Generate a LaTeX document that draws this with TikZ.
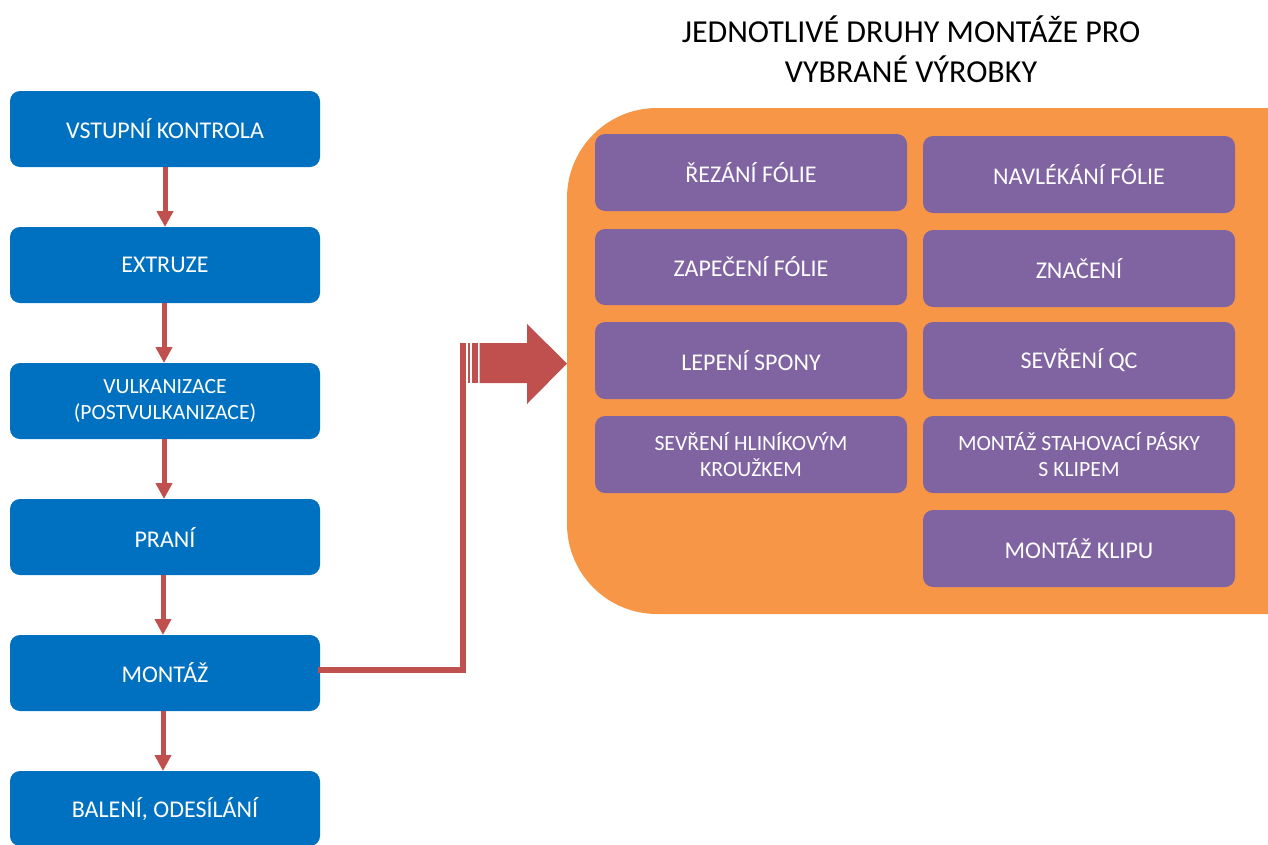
\documentclass[tikz,border=0pt]{standalone}
\usepackage{fontspec}
\setmainfont{Carlito}
\usetikzlibrary{arrows.meta}
\definecolor{bluebox}{HTML}{0070C0}
\definecolor{purplebox}{HTML}{8064A2}
\definecolor{orangebox}{HTML}{F79646}
\definecolor{redline}{HTML}{C0504D}
\begin{document}
\begin{tikzpicture}[x=1pt,y=-1pt,
  stepbox/.style={fill=bluebox,rounded corners=10pt,text=white,align=center,
     font=\fontsize{24}{28}\selectfont},
  subbox/.style={fill=purplebox,rounded corners=10pt,text=white,align=center,
     font=\fontsize{24}{28}\selectfont},
  small/.style={font=\fontsize{21.7}{26}\selectfont},
  flow/.style={draw=redline,line width=5pt,-{Triangle[length=16pt,width=16pt]}},
  link/.style={draw=redline,line width=5.5pt}]
\useasboundingbox (0,0) rectangle (1268,844);
\clip (0,0) rectangle (1268,844);
% orange container
\fill[orangebox,rounded corners=90pt] (567,108) rectangle (1360,614);
\node[font=\fontsize{32}{40}\selectfont,align=center] (title) at (911,49)
  {JEDNOTLIVÉ DRUHY MONTÁŽE PRO\\VYBRANÉ VÝROBKY};
% blue steps
\path[stepbox] (10,91) rectangle (320,167) node[midway] (s1) {VSTUPNÍ KONTROLA};
\path[stepbox] (10,227) rectangle (320,303) node[midway] (s2) {EXTRUZE};
\path[stepbox] (10,363) rectangle (320,439) node[midway,small] (s3) {VULKANIZACE\\(POSTVULKANIZACE)};
\path[stepbox] (10,499) rectangle (320,575) node[midway] (s4) {PRANÍ};
\path[stepbox] (10,635) rectangle (320,711) node[midway] (s5) {MONTÁŽ};
\path[stepbox] (10,771) rectangle (320,846) node[midway] (s6) {BALENÍ, ODESÍLÁNÍ};
\coordinate (a1) at (165,167); \coordinate (b1) at (165,227);
\coordinate (a2) at (164,303); \coordinate (b2) at (164,363);
\coordinate (a3) at (164,439); \coordinate (b3) at (164,499);
\coordinate (a4) at (163,575); \coordinate (b4) at (163,635);
\coordinate (a5) at (163,711); \coordinate (b5) at (163,771);
\draw[flow] (a1) -- (b1);
\draw[flow] (a2) -- (b2);
\draw[flow] (a3) -- (b3);
\draw[flow] (a4) -- (b4);
\draw[flow] (a5) -- (b5);
% purple boxes
\path[subbox] (595,134) rectangle (907,211) node[midway] (p1) {ŘEZÁNÍ FÓLIE};
\path[subbox] (923,136) rectangle (1235,213) node[midway] (p2) {NAVLÉKÁNÍ FÓLIE};
\path[subbox] (595,229) rectangle (907,305) node[midway] (p3) {ZAPEČENÍ FÓLIE};
\path[subbox] (923,230) rectangle (1235,307) node[midway] (p4) {ZNAČENÍ};
\path[subbox] (595,322) rectangle (907,399) node[midway] (p5) {LEPENÍ SPONY};
\path[subbox] (923,322) rectangle (1235,399) node[midway] (p6) {SEVŘENÍ QC};
\path[subbox] (595,416) rectangle (907,493) node[midway,small] (p7) {SEVŘENÍ HLINÍKOVÝM\\KROUŽKEM};
\path[subbox] (923,416) rectangle (1235,493) node[midway,small] (p8) {MONTÁŽ STAHOVACÍ PÁSKY\\S KLIPEM};
\path[subbox] (923,510) rectangle (1235,587) node[midway] (p9) {MONTÁŽ KLIPU};
% connector from MONTÁŽ to striped arrow
\coordinate (c1) at (318,670);
\coordinate (c2) at (463,670);
\coordinate (c3) at (463,343);
\draw[link] (c1) -- (c2) -- (c3);
% striped block arrow
\fill[redline] (460,343) rectangle (466,383);
\fill[redline] (467.5,343) rectangle (469.5,383);
\fill[redline] (472,343) rectangle (477.5,383);
\fill[redline] (479.5,343) -- (527,343) -- (527,324) -- (567,363.5) -- (527,404) -- (527,383) -- (479.5,383) -- cycle;
\end{tikzpicture}
\end{document}
